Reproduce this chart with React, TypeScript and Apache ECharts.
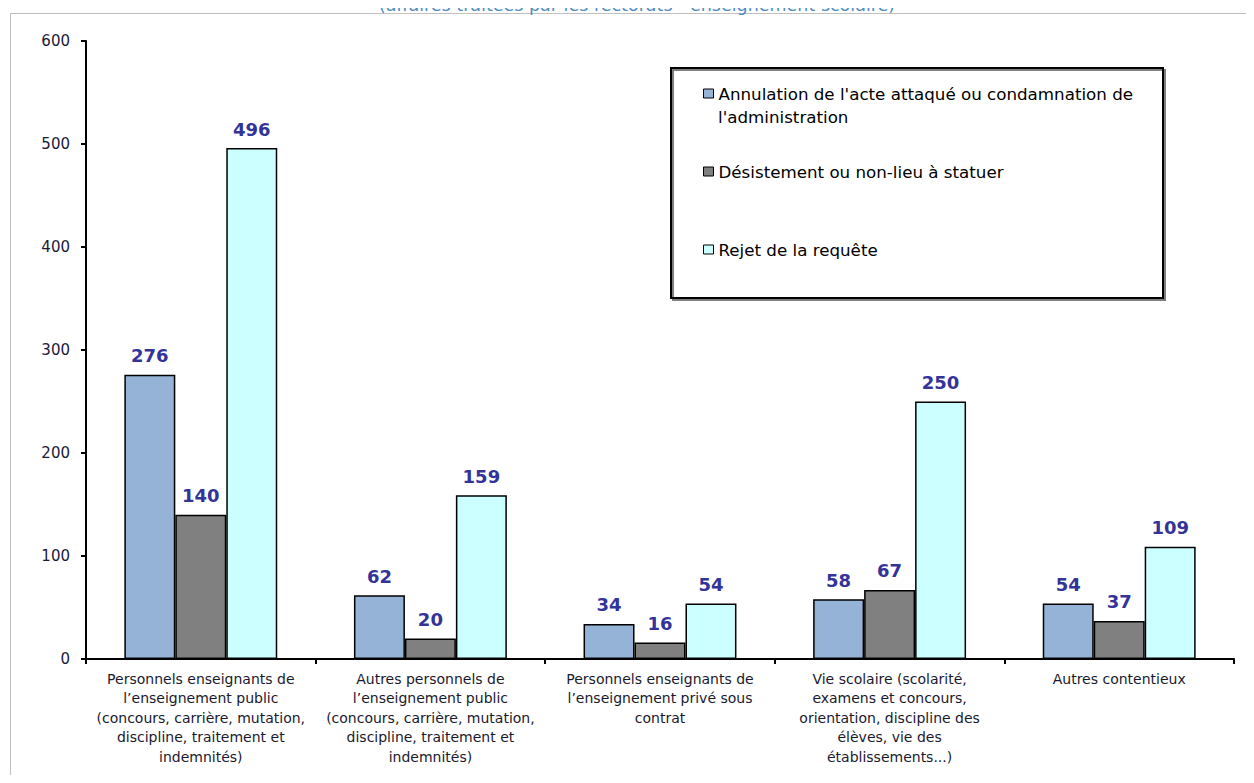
import React, { useEffect, useRef } from "react";
import * as echarts from "echarts";

const categories = [
  "Personnels enseignants de\nl’enseignement public\n(concours, carrière, mutation,\ndiscipline, traitement et\nindemnités)",
  "Autres personnels de\nl’enseignement public\n(concours, carrière, mutation,\ndiscipline, traitement et\nindemnités)",
  "Personnels enseignants de\nl’enseignement privé sous\ncontrat",
  "Vie scolaire (scolarité,\nexamens et concours,\norientation, discipline des\nélèves, vie des\nétablissements...)",
  "Autres contentieux",
];
const seriesNames = [
  "Annulation de l'acte attaqué ou condamnation de\nl'administration",
  "Désistement ou non-lieu à statuer",
  "Rejet de la requête",
];
const annulation = [276, 62, 34, 58, 54];
const desistement = [140, 20, 16, 67, 37];
const rejet = [496, 159, 54, 250, 109];
const yMin = 0;
const yMax = 600;
const yStep = 100;
const titleText = "(affaires traitées par les rectorats - enseignement scolaire)";

const colors = ["#95b3d7", "#808080", "#ccffff"];
const FONT = "DejaVu Sans";

export default function App() {
  const ref = useRef<HTMLDivElement>(null);
  useEffect(() => {
    if (!ref.current) return;
    const chart = echarts.init(ref.current, null, { renderer: "svg" });
    const values = [annulation, desistement, rejet];
    const legendTops = [77, 155, 233];
    const firstLegendLines = seriesNames[0].split("\n");
    const option: any = {
      animation: false,
      backgroundColor: "#ffffff",
      grid: { left: 78, right: 12, top: 33, bottom: 116, containLabel: false },
      legend: seriesNames.map((n, i) => ({
        data: [n],
        left: 695,
        top: legendTops[i],
        padding: 0,
        itemWidth: 10,
        itemHeight: 9,
        itemGap: 0,
        icon: "rect",
        selectedMode: false,
        formatter: (name: string) => name.split("\n")[0],
        itemStyle: { borderColor: "#000", borderWidth: 1 },
        textStyle: {
          fontFamily: FONT,
          fontSize: 16.7,
          color: "#000",
        },
      })),
      xAxis: {
        type: "category",
        data: categories,
        axisLine: { lineStyle: { color: "#000", width: 2 } },
        axisTick: { show: true, alignWithLabel: false, interval: 0, length: 5, lineStyle: { color: "#000", width: 2 } },
        axisLabel: {
          interval: 0,
          margin: 10,
          fontFamily: FONT,
          fontSize: 14,
          lineHeight: 19.5,
          color: "#1a1a2e",
        },
      },
      yAxis: {
        type: "value",
        min: yMin,
        max: yMax,
        interval: yStep,
        splitLine: { show: false },
        axisLine: { show: true, lineStyle: { color: "#000", width: 2 } },
        axisTick: { show: true, length: 5, lineStyle: { color: "#000", width: 2 } },
        axisLabel: {
          margin: 16,
          fontFamily: FONT,
          fontSize: 15,
          color: "#1a1a3a",
        },
      },
      series: values.map((v, i) => ({
        name: seriesNames[i],
        type: "bar",
        data: v,
        barGap: "0%",
        barCategoryGap: "33.4%",
        itemStyle: { color: colors[i], borderColor: "#000", borderWidth: 1.5 },
        label: {
          show: true,
          position: "top",
          distance: 10,
          fontFamily: FONT,
          fontWeight: "bold",
          fontSize: 18,
          color: "#333399",
        },
      })),
      graphic: [
        {
          type: "line",
          shape: { x1: 2, y1: 5.5, x2: 1246, y2: 5.5 },
          style: { stroke: "#c0c0c0", lineWidth: 1 },
          silent: true,
        },
        {
          type: "line",
          shape: { x1: 2.5, y1: 5, x2: 2.5, y2: 780 },
          style: { stroke: "#c0c0c0", lineWidth: 1 },
          silent: true,
        },
        {
          type: "text",
          x: 629,
          y: -3.5,
          style: {
            text: titleText,
            fontFamily: FONT,
            fontSize: 17.5,
            fill: "#4f8cc0",
            align: "center",
            verticalAlign: "middle",
          },
          silent: true,
        },
        {
          type: "text",
          x: 710,
          y: 109,
          style: {
            text: firstLegendLines[1],
            fontFamily: FONT,
            fontSize: 16.7,
            fill: "#000",
            align: "left",
            verticalAlign: "middle",
          },
          silent: true,
        },
        {
          type: "rect",
          shape: { x: 663, y: 60, width: 492, height: 230 },
          style: {
            fill: "rgba(0,0,0,0)",
            stroke: "#000",
            lineWidth: 2,
            shadowColor: "rgba(0,0,0,0.5)",
            shadowOffsetX: 2,
            shadowOffsetY: 2,
            shadowBlur: 1,
          },
          silent: true,
          z: 0,
        },
      ],
    };
    chart.setOption(option);
    return () => chart.dispose();
  }, []);
  return <div ref={ref} style={{ width: 1238, height: 767 }} />;
}
